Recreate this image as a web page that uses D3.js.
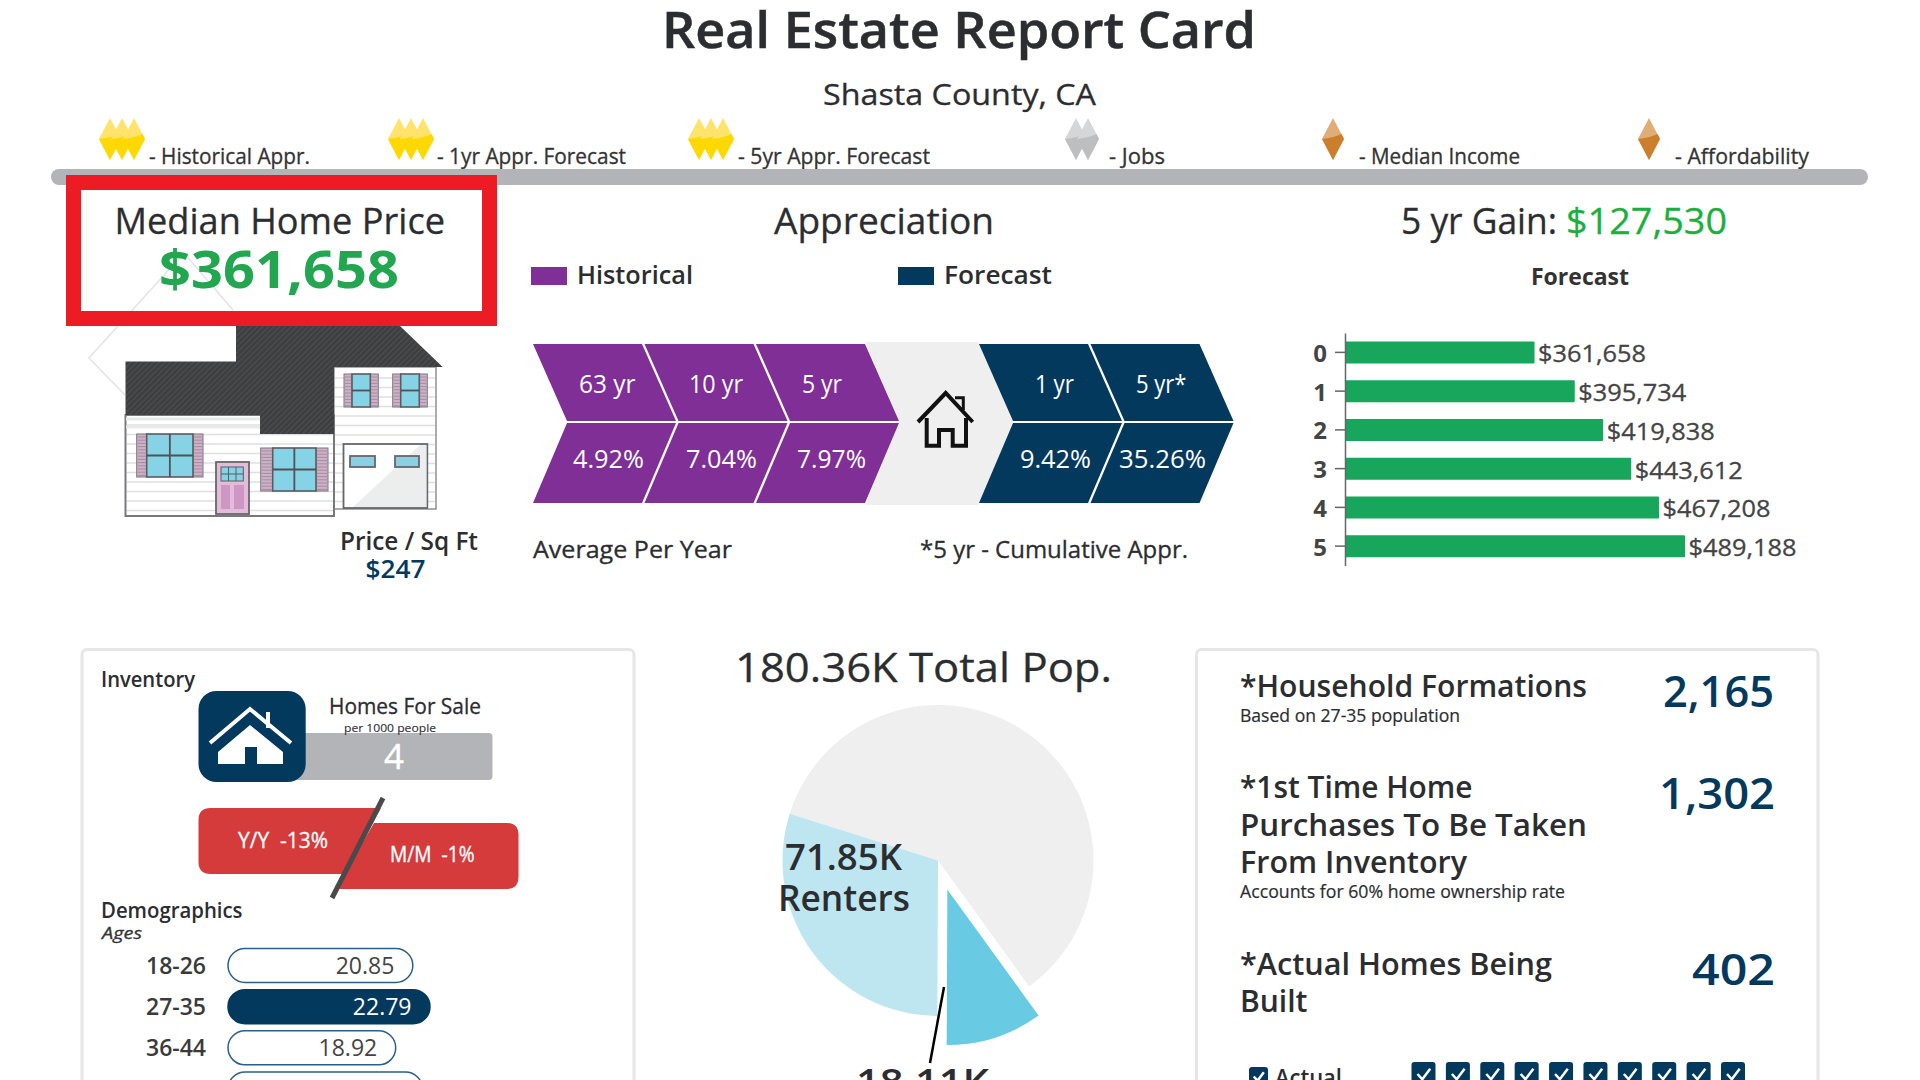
<!DOCTYPE html>
<html><head><meta charset="utf-8">
<script src="https://cdn.jsdelivr.net/npm/d3@7"></script>
<style>html,body{margin:0;padding:0;background:#fff;overflow:hidden}svg{display:block}</style>
</head><body><svg id="c" width="1920" height="1080" viewBox="0 0 1920 1080"></svg>
<script>
// ---------- data ----------
const titleText = "Real Estate Report Card";
const subtitleText = "Shasta County, CA";
const ratingLabels = ["- Historical Appr.","- 1yr Appr. Forecast","- 5yr Appr. Forecast","- Jobs","- Median Income","- Affordability"];
const ratingCounts = [3,3,3,2,1,1];
const ratingTiers  = ["gold","gold","gold","silver","bronze","bronze"];
const medianPrice = "$361,658";
const pricePerSqFt = "$247";
const gainAmount = "$127,530";
const chevronPeriods = ["63 yr","10 yr","5 yr","1 yr","5 yr*"];
const chevronRates   = ["4.92%","7.04%","7.97%","9.42%","35.26%"];
const chevronKinds   = ["Historical","Historical","Historical","Forecast","Forecast"];
const chevronSlots   = [0,1,2,4,5];
const forecastYears  = ["0","1","2","3","4","5"];
const forecastValues = [361658,395734,419838,443612,467208,489188];
const ageGroups = ["18-26","27-35","36-44","45-54"];
const ageValues = [20.85,22.79,18.92,21.94];
const pieNames  = ["Other","First-time renters","Renters"];
const pieValues = [108.51,18.11,53.74];
const builtChecks = [1,1,1,1,1,1,1,1,1,1];

// ---------- helpers ----------
const F = "'Open Sans', sans-serif";
const INK = "#2b2d30", NAVY = "#04395E", PURPLE = "#7F2F96", GREY = "#B3B4B7";
const svg = d3.select("#c");
const defs = svg.append("defs");
const roofPat = defs.append("pattern").attr("id","roof").attr("width",4).attr("height",4)
  .attr("patternUnits","userSpaceOnUse").attr("patternTransform","rotate(45)");
roofPat.append("rect").attr("width",4).attr("height",4).attr("fill","#3d3e40");
roofPat.append("rect").attr("width",1.5).attr("height",4).attr("fill","#4b4c4e");
function T(x0, x1, y, s, size, o = {}) {
  const c = o.c || INK;
  return svg.append("text").attr("x", x0).attr("y", y).text(s)
    .attr("font-family", F).attr("font-size", size)
    .attr("font-weight", o.w || 400).attr("font-style", o.i ? "italic" : "normal")
    .attr("fill", c).attr("stroke", c).attr("stroke-width", o.sw === undefined ? 0.3 : o.sw)
    .attr("textLength", x1 - x0).attr("lengthAdjust", "spacingAndGlyphs");
}
const line = d3.line();
function P(pts, fill, stroke, sw, parent) {
  return (parent || svg).append("path").attr("d", line(pts) + (fill === "none" ? "" : "Z"))
    .attr("fill", fill).attr("stroke", stroke || "none").attr("stroke-width", sw || 0);
}
function R(x0, y0, x1, y1, fill, o = {}) {
  return svg.append("rect").attr("x", x0).attr("y", y0).attr("width", x1 - x0).attr("height", y1 - y0)
    .attr("fill", fill).attr("rx", o.r || 0).attr("stroke", o.s || "none").attr("stroke-width", o.sw || 0);
}
function HL(x0,x1,y,c,w){ svg.append("line").attr("x1",x0).attr("x2",x1).attr("y1",y).attr("y2",y).attr("stroke",c).attr("stroke-width",w); }
function VL(x,y0,y1,c,w){ svg.append("line").attr("x1",x).attr("x2",x).attr("y1",y0).attr("y2",y1).attr("stroke",c).attr("stroke-width",w); }

// ---------- header ----------
T(662, 1256, 48, titleText, 50, {w: 600, sw: 0.5});
T(823, 1096, 105, subtitleText, 29);

const tierColors = {gold: ["#FFE36A","#FFD800"], silver: ["#D5D6D7","#BDBEC0"], bronze: ["#E0AD78","#CC7E2C"]};
const ratingPeak = [110,399,699,1076,1333,1649];
const ratingText = [[149,310],[437,626],[738,930],[1109,1165],[1359,1520],[1675,1809]];
ratingLabels.forEach((lab, i) => {
  d3.range(ratingCounts[i]).forEach(k => {
    const cx = ratingPeak[i] + k * 12, [top, bot] = tierColors[ratingTiers[i]];
    P([[cx,118],[cx+11,139],[cx,160],[cx-11,139]], top);
    svg.append("path").attr("d",`M${cx-11},139Q${cx},138 ${cx+8.5},134L${cx+11},139L${cx},160Z`).attr("fill",bot);
  });
  T(ratingText[i][0], ratingText[i][1], 164, lab, 21, {c: "#333"});
});
R(51, 169, 1868, 185, GREY, {r: 8});

// ---------- house illustration ----------
P([[184,253],[89,358],[125,395]], "none", "#E4E4E4", 1.5);
P([[184,253],[233,310]], "none", "#E4E4E4", 1.5);
R(334,367,436,509,"#fff",{s:"#8f9092",sw:1.5});
R(125.5,415,334,516,"#fff",{s:"#77787a",sw:2});
d3.range(425,514,9.5).forEach(y => HL(127,333,y,"#DEDFE0",1.6));
d3.range(378,507,9.5).forEach(y => HL(335,435,y,"#DEDFE0",1.6));
HL(126,260,419,"#E8E9E9",3);
HL(126,260,427,"#E8E9E9",3);
P([[125.5,361.5],[236,361.5],[236,326],[400,326],[442.7,367],[334,367],[334,434],[260,434],[260,415],[125.5,415]], "url(#roof)");
R(343.5,444,427.3,508,"#fff",{s:"#66676a",sw:1.8});
P([[353,507],[420,445],[426.4,445],[426.4,507]],"#ECEEEE");
[[350,456,375,467],[395,456,419,467]].forEach(r => R(r[0],r[1],r[2],r[3],"#8CCFE2",{s:"#66676a",sw:1.8}));
function win(x0,y0,x1,y1,sh,cross) {
  R(x0,y0,x0+sh,y1,"#CFB0C7",{s:"#77787a",sw:1});
  R(x1-sh,y0,x1,y1,"#CFB0C7",{s:"#77787a",sw:1});
  d3.range(y0+3,y1-1,3.2).forEach(y=>{HL(x0+1,x0+sh-1,y,"#8f7f8e",0.7);HL(x1-sh+1,x1-1,y,"#8f7f8e",0.7);});
  R(x0+sh,y0,x1-sh,y1,"#86D3E6",{s:"#5a5c5f",sw:1.6});
  const mx=(x0+x1)/2,my=(y0+y1)/2;
  if(cross) VL(mx,y0,y1,"#4f5255",1.8);
  HL(x0+sh,x1-sh,my,"#4f5255",1.8);
}
win(344,374,378.3,407,8,false); win(392.7,374,427.3,407,8,false);
win(136.7,434,203,477,10,true); win(260.7,448,328,491,12,true);
R(216,462,249,514,"#E4BCD9",{s:"#66676a",sw:1.8});
R(221,467,243.3,481,"#86D3E6",{s:"#5a5c5f",sw:1});
VL(228.5,467,481,"#5a5c5f",1);VL(236,467,481,"#5a5c5f",1);HL(221,243.3,474,"#5a5c5f",1);
R(221,485,230,509,"#CE96C2"); R(234,485,244,509,"#CE96C2");

// ---------- median price box ----------
R(73.5,182.5,489.5,318.5,"none",{s:"#ED1C24",sw:15});
T(114.5,445,234,"Median Home Price",37);
T(159,399,288,medianPrice,52,{w:700,c:"#22A650",sw:0});
T(340,478,550,"Price / Sq Ft",25,{w:600,sw:0});
T(365.6,425.6,578,pricePerSqFt,25,{w:600,c:NAVY,sw:0});

// ---------- appreciation chevrons ----------
T(774,994,234,"Appreciation",37);
R(531,267,567,285,PURPLE); T(577,693,284,"Historical",25,{w:600,sw:0});
R(898,267,934,285,NAVY);   T(944,1052,284,"Forecast",25,{w:600,sw:0});
const chevX = d3.scaleLinear().domain([0,5]).range([533,1090.5]);
const CW=109, CS=34, CT=344, CM=421, CB=503;
const periodSpan = [[579,635.5],[689,743],[802,842],[1035,1074],[1136,1186.5]];
const rateSpan   = [[573,644],[686,757],[797,866],[1020,1091],[1119,1206]];
P([[chevX(3)-2,342],[chevX(4),342],[chevX(4)+CS,422],[chevX(4),505],[chevX(3)-2,505],[chevX(3)+CS-2,422]],"#EFEFEF");
const chevColor = d3.scaleOrdinal().domain(["Historical","Forecast"]).range([PURPLE,NAVY]);
chevronSlots.forEach((s,i) => {
  const x=chevX(s), c=chevColor(chevronKinds[i]);
  P([[x,CT],[x+CW,CT],[x+CW+CS,CM],[x+CS,CM]],c);
  P([[x+CS,CM+2],[x+CW+CS,CM+2],[x+CW,CB],[x,CB]],c);
  T(periodSpan[i][0],periodSpan[i][1],393,chevronPeriods[i],25,{c:"#fff",sw:0});
  T(rateSpan[i][0],rateSpan[i][1],468,chevronRates[i],25,{c:"#fff",sw:0});
});
P([[918,422],[945.7,393],[972.7,422]],"none","#111",4);
P([[926.7,418],[926.7,445.7],[939,445.7],[939,430],[952.7,430],[952.7,445.7],[966,445.7],[966,418]],"none","#111",4);
P([[955,397.7],[963.3,397.7],[963.3,410]],"none","#111",3);
T(533,732,558,"Average Per Year",24);
T(920,1188,558,"*5 yr - Cumulative Appr.",24);

// ---------- forecast bars ----------
T(1401,1557,234,"5 yr Gain:",37);
T(1566,1727,234,gainAmount,37,{c:"#1BAF3D"});
T(1531,1629,285,"Forecast",23,{w:700,c:"#333",sw:0});
const bx = d3.scaleLinear().domain([201000,489188]).range([1345,1685]);
const by = d3.scaleBand().domain(forecastYears).range([333,565.5]);
const barH = 22;
svg.append("g").selectAll("rect").data(forecastValues).join("rect")
  .attr("x",bx.range()[0]).attr("y",(d,i)=>by(forecastYears[i])+by.bandwidth()/2-barH/2)
  .attr("width",d=>bx(d)-bx.range()[0]).attr("height",barH).attr("rx",1).attr("fill","#17A65B");
svg.append("g").selectAll("text").data(forecastValues).join("text")
  .attr("x",d=>bx(d)+3.5).attr("y",(d,i)=>by(forecastYears[i])+by.bandwidth()/2+10)
  .text(d3.format("$,")).attr("font-family",F).attr("font-size",24).attr("fill","#444").attr("stroke","#444").attr("stroke-width",0.3)
  .attr("textLength",108).attr("lengthAdjust","spacingAndGlyphs");
const axis = svg.append("g").attr("transform","translate(1345,0)")
  .call(d3.axisLeft(by).tickSize(10).tickSizeOuter(0).tickPadding(8));
axis.selectAll("path,line").attr("stroke","#666").attr("stroke-width",1.5);
axis.selectAll("text").attr("font-family",F).attr("font-size",24).attr("font-weight",700).attr("fill","#444").attr("dy","0.4em");

// ---------- left panel ----------
R(82,649.5,634,1120,"#fff",{s:"#E6E6E6",sw:3,r:5});
T(101,195,687,"Inventory",21,{w:600,sw:0});
R(280,733,492.5,780,GREY,{r:4});
R(198.5,691,305.7,782,NAVY,{r:18});
P([[218,752],[250,725],[283,752],[283,764],[257,764],[257,747],[245,747],[245,764],[218,764]],"#fff");
P([[210,743],[250,709],[291,743]],"none","#fff",4);
R(266,712,270,728,"#fff");
T(329,481,714,"Homes For Sale",21);
T(344,436,732,"per 1000 people",11,{sw:0.1});
T(384,404,769,"4",34,{c:"#fff",sw:0.4});
svg.append("path").attr("d","M210.5,808L381,808L345,874L210.5,874Q198.5,874 198.5,862L198.5,820Q198.5,808 210.5,808Z").attr("fill","#D63B3C");
svg.append("path").attr("d","M374,823L506.5,823Q518.5,823 518.5,835L518.5,877Q518.5,889 506.5,889L335.5,889Z").attr("fill","#D63B3C");
P([[383,798],[332,898]],"none","#4A4A4D",5);
T(238,328,848,"Y/Y  -13%",21,{c:"#fff"}).attr("xml:space","preserve");
T(390,474.5,862,"M/M  -1%",21,{c:"#fff"}).attr("xml:space","preserve");
T(101,242.5,918,"Demographics",21,{w:600,sw:0});
T(102,142,939,"Ages",17,{i:true,c:"#333"});
const ageW = d3.scaleLinear().domain([0,22.79]).range([0,202]);
const ageY = d3.scaleLinear().domain([0,3]).range([948.5,1072]);
const ageMax = d3.max(ageValues);
const ageG = svg.append("g").selectAll("g").data(ageValues).join("g")
  .attr("transform",(d,i)=>`translate(228,${ageY(i)})`);
ageG.append("rect").attr("width",d=>ageW(d)).attr("height",34).attr("rx",17)
  .attr("fill",d=>d===ageMax?NAVY:"#fff").attr("stroke",d=>d===ageMax?NAVY:"#2D5F86").attr("stroke-width",1.5);
ageG.append("text").attr("x",d=>ageW(d)-18.5).attr("y",25).attr("text-anchor","end").text(d=>d.toFixed(2))
  .attr("font-family",F).attr("font-size",23).attr("fill",d=>d===ageMax?"#fff":"#444");
ageG.append("text").attr("x",-22).attr("y",25).attr("text-anchor","end").text((d,i)=>ageGroups[i])
  .attr("font-family",F).attr("font-size",23).attr("font-weight",600).attr("fill","#3a3a3a");

// ---------- population pie ----------
T(735,1112,682,"180.36K Total Pop.",41);
const pie = d3.pie().sort(null).startAngle(-72.5*Math.PI/180).endAngle(287.5*Math.PI/180)(pieValues);
const arc = d3.arc().innerRadius(0).outerRadius(155.5);
const pieColors = ["#EFEFEF","#69CBE3","#BDE6F1"];
svg.append("g").attr("transform","translate(938,860.5)").selectAll("path").data(pie).join("path")
  .attr("d",arc).attr("fill",(d,i)=>pieColors[i])
  .attr("transform",(d,i)=>{
    if(i!==1) return null;
    const m=(d.startAngle+d.endAngle)/2;
    return `translate(${30.5*Math.sin(m)},${-30.5*Math.cos(m)})`;
  });
T(785,902,870,"71.85K",36,{w:600,sw:0});
T(778,910,911,"Renters",36,{w:600,sw:0});
P([[944,987],[930,1063]],"none","#000",2.5);
T(856,989,1095,"18.11K",36,{w:600,sw:0});

// ---------- right panel ----------
R(1196.5,649.5,1818,1120,"#fff",{s:"#E6E6E6",sw:3,r:5});
T(1240,1587,697,"*Household Formations",31,{w:600,sw:0});
T(1240,1460,722,"Based on 27-35 population",18,{sw:0.2});
T(1663,1774,707,"2,165",43,{w:600,c:NAVY,sw:0});
T(1240,1472.5,798,"*1st Time Home",31,{w:600,sw:0});
T(1240,1587,836,"Purchases To Be Taken",31,{w:600,sw:0});
T(1240,1467,873,"From Inventory",31,{w:600,sw:0});
T(1240,1565,898,"Accounts for 60% home ownership rate",18,{sw:0.2});
T(1659,1775,809,"1,302",43,{w:600,c:NAVY,sw:0});
T(1240,1552,975,"*Actual Homes Being",31,{w:600,sw:0});
T(1240,1307.5,1012,"Built",31,{w:600,sw:0});
T(1692,1775,985,"402",43,{w:600,c:NAVY,sw:0});
const checkX = d3.scaleLinear().domain([0,9]).range([1411.5,1721]);
function check(x,y,s){
  svg.append("rect").attr("x",x).attr("y",y).attr("width",s).attr("height",s).attr("rx",3).attr("fill",NAVY);
  P([[x+s*.25,y+s*.5],[x+s*.45,y+s*.72],[x+s*.78,y+s*.28]],"none","#fff",2.5);
}
builtChecks.forEach((d,i)=>check(checkX(i),1062,24));
check(1249,1067,19);
T(1275,1342,1086,"Actual",24,{w:600,sw:0});
</script></body></html>
